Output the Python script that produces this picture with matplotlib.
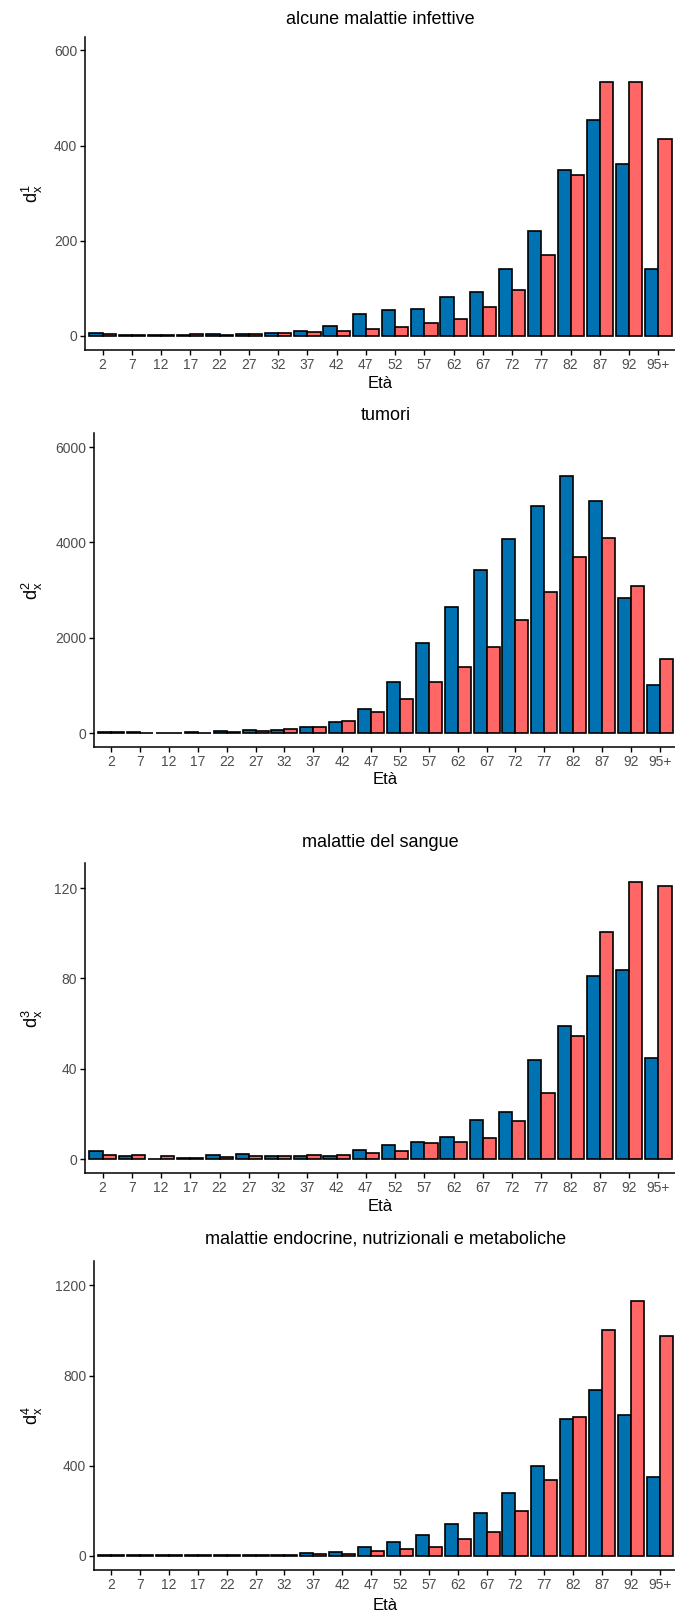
import matplotlib.pyplot as plt
import numpy as np

plt.rcParams['font.family'] = ['Liberation Sans', 'DejaVu Sans']

# age classes on the x axis
eta = ['2', '7', '12', '17', '22', '27', '32', '37', '42', '47',
       '52', '57', '62', '67', '72', '77', '82', '87', '92', '95+']

titoli = ['alcune malattie infettive', 'tumori', 'malattie del sangue',
          'malattie endocrine, nutrizionali e metaboliche']

# deaths by cause, males (blue) and females (red)
d1_m = [5.6, 1, 1, 2, 3, 4, 6, 10, 21, 45.5, 54.7, 56.8, 81, 91, 140, 220, 349, 454, 361.6, 140.9]
d1_f = [4, 1, 1, 3, 1, 3, 6, 7, 11, 14, 19, 26, 36, 59.6, 96.7, 169.6, 337.8, 533, 534.7, 413.5]

d2_m = [15, 12, 10, 12, 35, 56, 70, 119, 231, 503, 1063, 1895, 2643, 3427, 4070, 4769, 5392, 4860, 2839, 1000]
d2_f = [12, 10, 8, 8, 21, 42, 84, 133, 245, 441, 713, 1063, 1385, 1797, 2378, 2965, 3692, 4084, 3084, 1545]

d3_m = [3.5, 1.2, 0.15, 0.6, 1.8, 2.4, 1.2, 1.3, 1.5, 4, 6.2, 7.5, 9.7, 17.2, 20.9, 43.9, 58.8, 81.1, 83.7, 44.8]
d3_f = [1.9, 1.8, 1.5, 0.6, 0.9, 1.2, 1.3, 1.8, 1.9, 2.9, 3.7, 7.2, 7.8, 9.4, 16.9, 29.5, 54.3, 100.6, 122.5, 120.9]

d4_m = [3, 2, 2, 2, 2, 4, 3, 15, 18, 38, 60, 91, 140, 189, 277, 401, 609, 734, 626, 348]
d4_f = [4, 2, 2, 2, 3, 2, 3, 9, 10, 22, 29.5, 41, 75, 106, 198, 335, 616, 1004, 1130, 976]

maschi = [d1_m, d2_m, d3_m, d4_m]
femmine = [d1_f, d2_f, d3_f, d4_f]
y_max = [599, 5990, 124.7, 1247]
y_ticks = [[0, 200, 400, 600], [0, 2000, 4000, 6000], [0, 40, 80, 120], [0, 400, 800, 1200]]

W, H = 675, 1613
fig = plt.figure(figsize=(W / 100, H / 100), dpi=100)

# panel boxes in pixels: left, top, right, bottom
boxes = [(85, 36.7, 676, 350), (94, 433.3, 677, 747.3),
         (85, 863.3, 676, 1173.3), (94, 1260.7, 677, 1570)]
title_y = [19, 416, 842.7, 1239]
xlab_y = [384, 780, 1206.7, 1605]

x = np.arange(len(eta))
w = 0.45
for i in range(4):
    l, t, r, b = boxes[i]
    ax = fig.add_axes([l / W, 1 - b / H, (r - l) / W, (b - t) / H])
    ax.bar(x - w / 2, maschi[i], width=w, color='#0072B2', edgecolor='black', linewidth=1.2)
    ax.bar(x + w / 2, femmine[i], width=w, color='#FF6666', edgecolor='black', linewidth=1.2)
    ax.set_xlim(-0.6, len(eta) - 0.4)
    ax.set_ylim(-0.05 * y_max[i], 1.05 * y_max[i])
    ax.set_xticks(x)
    ax.set_xticklabels(eta)
    ax.set_yticks(y_ticks[i])
    ax.spines['top'].set_visible(False)
    ax.spines['right'].set_visible(False)
    for s in ['left', 'bottom']:
        ax.spines[s].set_linewidth(1.1)
    ax.tick_params(labelsize=10, colors='#4D4D4D', length=3.5, width=1, pad=2)
    ax.tick_params(axis='both', color='black')
    ax.set_ylabel(r'$\mathregular{d_x^%d}$' % (i + 1), fontsize=13)
    ax.yaxis.set_label_coords((45 - l) / (r - l), 0.5)
    fig.text((l + r) / 2 / W, 1 - title_y[i] / H, titoli[i], ha='center', va='center', fontsize=13)
    fig.text((l + r) / 2 / W, 1 - xlab_y[i] / H, 'Età', ha='center', va='center', fontsize=12)

plt.savefig('out.png', dpi=100)
